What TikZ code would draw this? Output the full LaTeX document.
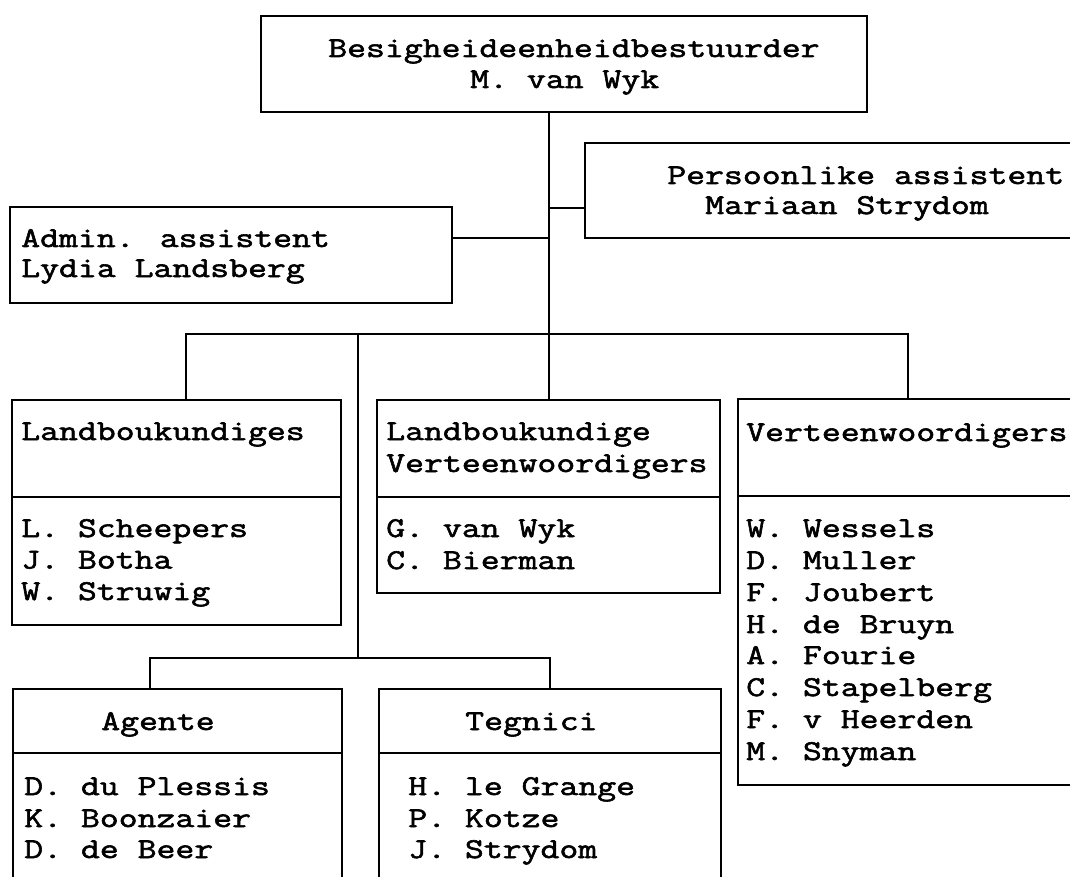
\documentclass[tikz,border=0pt]{standalone}
\usepackage{fontspec}
\usetikzlibrary{fit}
% slab-serif typewriter face, widened and darkened
\newfontfamily\orgface[FakeStretch=1.28,FakeBold=2]{Latin Modern Mono}
\newcommand\orgfont{\orgface\fontsize{21.5pt}{24pt}\selectfont}
\begin{document}
\begin{tikzpicture}[x=0.75pt,y=-0.75pt,
  box/.style={draw=black, line width=2pt, inner sep=0pt},
  link/.style={draw=black, line width=1.5pt},
  lbl/.style={anchor=base west, inner sep=0pt, font=\orgfont}]
\useasboundingbox (0,0) rectangle (1070,877);
\clip (0,0) rectangle (1070,877);

% boxes
\node[box, fit={(261,16) (867,112)}] (chief) {};
\node[box, fit={(585,143) (1085,238)}] (pa) {};
\node[box, fit={(10,207) (452,303)}] (admin) {};
\node[box, fit={(12,400) (341,497)}] (agrhead) {};
\node[box, fit={(12,497) (341,625)}] (agrbody) {};
\node[box, fit={(377,400) (720,497)}] (arhead) {};
\node[box, fit={(377,497) (720,593)}] (arbody) {};
\node[box, fit={(738,399) (1080,496)}] (rephead) {};
\node[box, fit={(738,496) (1080,785)}] (repbody) {};
\node[box, fit={(13,689) (342,753)}] (agthead) {};
\node[box, fit={(13,753) (342,895)}] (agtbody) {};
\node[box, fit={(379,689) (721,753)}] (techhead) {};
\node[box, fit={(379,753) (721,895)}] (techbody) {};

% junction points
\coordinate (palink) at (0,208);
\coordinate (adminlink) at (0,238);
\coordinate (busL) at (186,334);
\coordinate (busR) at (908,334);
\coordinate (branch) at (358,334);
\coordinate (split) at (358,658);
\coordinate (subL) at (150,658);

% connectors
\draw[link] (chief.south -| arhead.north) -- (arhead.north);
\draw[link] (arhead.north |- palink) -- (pa.west |- palink);
\draw[link] (admin.east |- adminlink) -- (arhead.north |- adminlink);
\draw[link] (agrhead.north -| busL) -- (busL) -- (busR) -- (rephead.north -| busR);
\draw[link] (branch) -- (split);
\draw[link] (agthead.north -| subL) -- (subL) -- (techhead.north |- subL) -- (techhead.north);

% texts
\node[lbl] (chief1) at (328,57) {Besigheideenheidbestuurder};
\node[lbl] (chief2) at (470,88) {M. van Wyk};
\node[lbl] (pa1) at (667,184) {Persoonlike assistent};
\node[lbl] (pa2) at (705,214) {Mariaan Strydom};
\node[lbl] (admin1) at (21,247) {Admin. assistent};
\node[lbl] (admin2) at (21,277) {Lydia Landsberg};

\node[lbl] (agr0) at (21,440) {Landboukundiges};
\node[lbl] (agr1) at (21,537) {L. Scheepers};
\node[lbl] (agr2) at (21,568.5) {J. Botha};
\node[lbl] (agr3) at (21,600) {W. Struwig};

\node[lbl] (ar0) at (386,440) {Landboukundige};
\node[lbl] (ar00) at (386,472) {Verteenwoordigers};
\node[lbl] (ar1) at (386,537) {G. van Wyk};
\node[lbl] (ar2) at (386,569) {C. Bierman};

\node[lbl] (rep0) at (746,441) {Verteenwoordigers};
\node[lbl] (rep1) at (746,537) {W. Wessels};
\node[lbl] (rep2) at (746,569) {D. Muller};
\node[lbl] (rep3) at (746,601) {F. Joubert};
\node[lbl] (rep4) at (746,633) {H. de Bruyn};
\node[lbl] (rep5) at (746,664) {A. Fourie};
\node[lbl] (rep6) at (746,696) {C. Stapelberg};
\node[lbl] (rep7) at (746,728) {F. v Heerden};
\node[lbl] (rep8) at (746,760) {M. Snyman};

\node[lbl] (agt0) at (101,730) {Agente};
\node[lbl] (agt1) at (24,795) {D. du Plessis};
\node[lbl] (agt2) at (24,827) {K. Boonzaier};
\node[lbl] (agt3) at (24,858) {D. de Beer};

\node[lbl] (tech0) at (465,730) {Tegnici};
\node[lbl] (tech1) at (408,795) {H. le Grange};
\node[lbl] (tech2) at (408,827) {P. Kotze};
\node[lbl] (tech3) at (408,858) {J. Strydom};
\end{tikzpicture}
\end{document}
